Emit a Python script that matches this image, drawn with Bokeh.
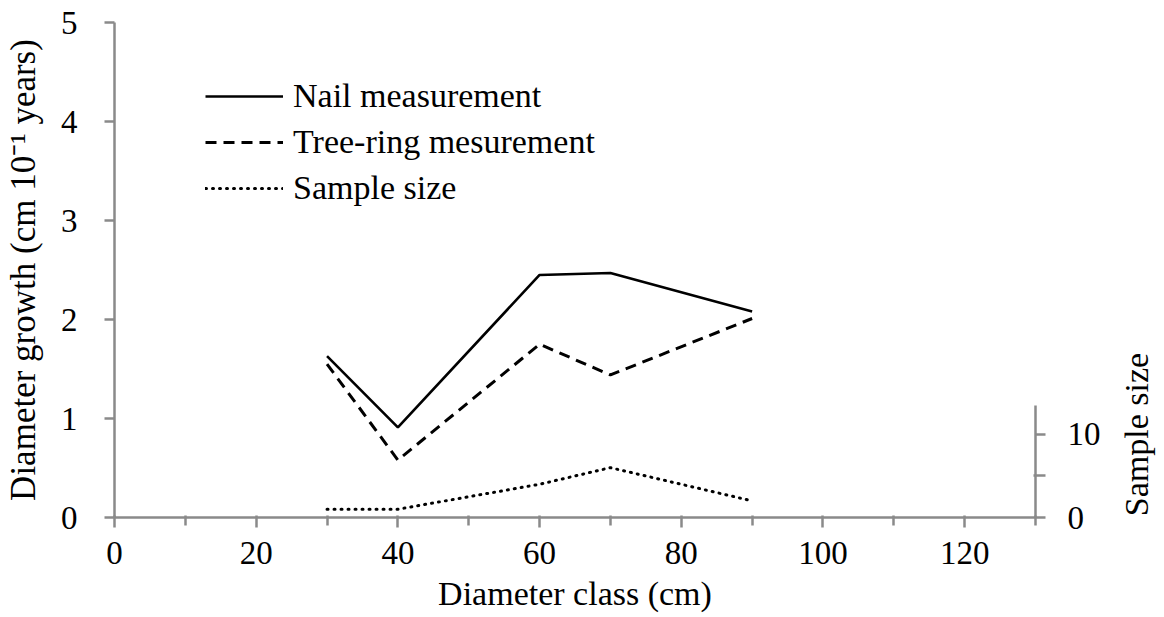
import math
from bokeh.plotting import figure
from bokeh.layouts import row
from bokeh.models import LinearAxis, Range1d, FixedTicker, Legend, LegendItem
from bokeh.core.properties import value
from bokeh.embed import file_html
from bokeh.resources import INLINE

# Data
diameter_class = [30, 40, 60, 70, 90]
nail_growth = [1.63, 0.91, 2.45, 2.47, 2.08]
tree_ring_growth = [1.55, 0.58, 1.75, 1.44, 2.01]
sample_size = [1, 1, 4, 6, 2]

x_major_ticks = [0, 20, 40, 60, 80, 100, 120]
x_minor_ticks = [10, 30, 50, 70, 90, 110, 130]
y_ticks = [0, 1, 2, 3, 4, 5]
n_major_ticks = [0, 10]
n_minor_ticks = [5]

FONT = "'Liberation Serif', 'Times New Roman', serif"
AXIS_COLOR = "#8a8a8a"

p = figure(width=1105, height=617, output_backend="svg", toolbar_location=None,
           x_range=Range1d(0, 130), y_range=Range1d(0, 5),
           min_border_left=114, min_border_right=70, min_border_top=22,
           min_border_bottom=100)
p.extra_y_ranges = {"n": Range1d(0, 59.6)}
p.outline_line_color = None
p.xgrid.visible = False
p.ygrid.visible = False
p.background_fill_color = "white"
p.border_fill_color = "white"

r_nail = p.line(diameter_class, nail_growth, line_color="black", line_width=2.6)
r_tree = p.line(diameter_class, tree_ring_growth, line_color="black", line_width=3,
                line_dash="11 7")
r_n = p.line(diameter_class, sample_size, line_color="black", line_width=3,
             line_dash="1 6", line_cap="round", y_range_name="n")

xa = p.xaxis[0]
xa.ticker = FixedTicker(ticks=x_major_ticks, minor_ticks=x_minor_ticks)
xa.axis_label = "Diameter class (cm)"

ya = p.yaxis[0]
ya.ticker = FixedTicker(ticks=y_ticks)
ya.axis_label = "Diameter growth (cm 10\u207b\u00b9 years)"

na = LinearAxis(y_range_name="n", bounds=(0, 13.5),
                ticker=FixedTicker(ticks=n_major_ticks, minor_ticks=n_minor_ticks))
p.add_layout(na, "right")

for ax in [xa, ya, na]:
    ax.axis_line_color = AXIS_COLOR
    ax.axis_line_width = 2.5
    ax.major_tick_line_color = AXIS_COLOR
    ax.major_tick_line_width = 2.5
    ax.minor_tick_line_color = AXIS_COLOR
    ax.minor_tick_line_width = 2.5
    ax.major_tick_in = 2
    ax.major_tick_out = 10
    ax.minor_tick_in = 2
    ax.minor_tick_out = 8
    ax.major_label_text_font = FONT
    ax.major_label_text_font_size = "33px"
    ax.major_label_text_color = "black"
    ax.axis_label_text_font = FONT
    ax.axis_label_text_font_size = "34px"
    ax.axis_label_text_font_style = "normal"
    ax.axis_label_text_color = "black"

ya.axis_label_text_font_size = "35px"
xa.major_label_standoff = 14
xa.axis_label_standoff = 8
ya.major_tick_in = 0
ya.major_label_standoff = 27
ya.axis_label_standoff = 15
na.major_tick_in = 0
na.minor_tick_out = 10
na.major_label_standoff = 22

legend = Legend(items=[
    LegendItem(label="Nail measurement", renderers=[r_nail]),
    LegendItem(label="Tree-ring mesurement", renderers=[r_tree]),
    LegendItem(label="Sample size", renderers=[r_n]),
], location=(91, 310))
legend.border_line_color = None
legend.background_fill_alpha = 0
legend.padding = 0
legend.margin = 0
legend.spacing = 8
legend.glyph_width = 78
legend.glyph_height = 30
legend.label_height = 30
legend.label_standoff = 10
legend.label_text_font = FONT
legend.label_text_font_size = "34px"
legend.label_text_color = "black"
p.add_layout(legend, "center")

# narrow strip holding the right-axis title "Sample size"
t = figure(width=59, height=617, output_backend="svg", toolbar_location=None,
           x_range=Range1d(0, 59), y_range=Range1d(0, 617),
           min_border=0, x_axis_location=None, y_axis_location=None)
t.outline_line_color = None
t.xgrid.visible = False
t.ygrid.visible = False
t.background_fill_color = "white"
t.border_fill_color = "white"
t.text(x=[31], y=[103.5], text=["Sample size"], angle=math.pi / 2,
       text_align="center", text_baseline="middle",
       text_font=value(FONT), text_font_size="34px", text_color="black")

layout = row(p, t, spacing=0)
open("out.html", "w").write(file_html(layout, INLINE))
